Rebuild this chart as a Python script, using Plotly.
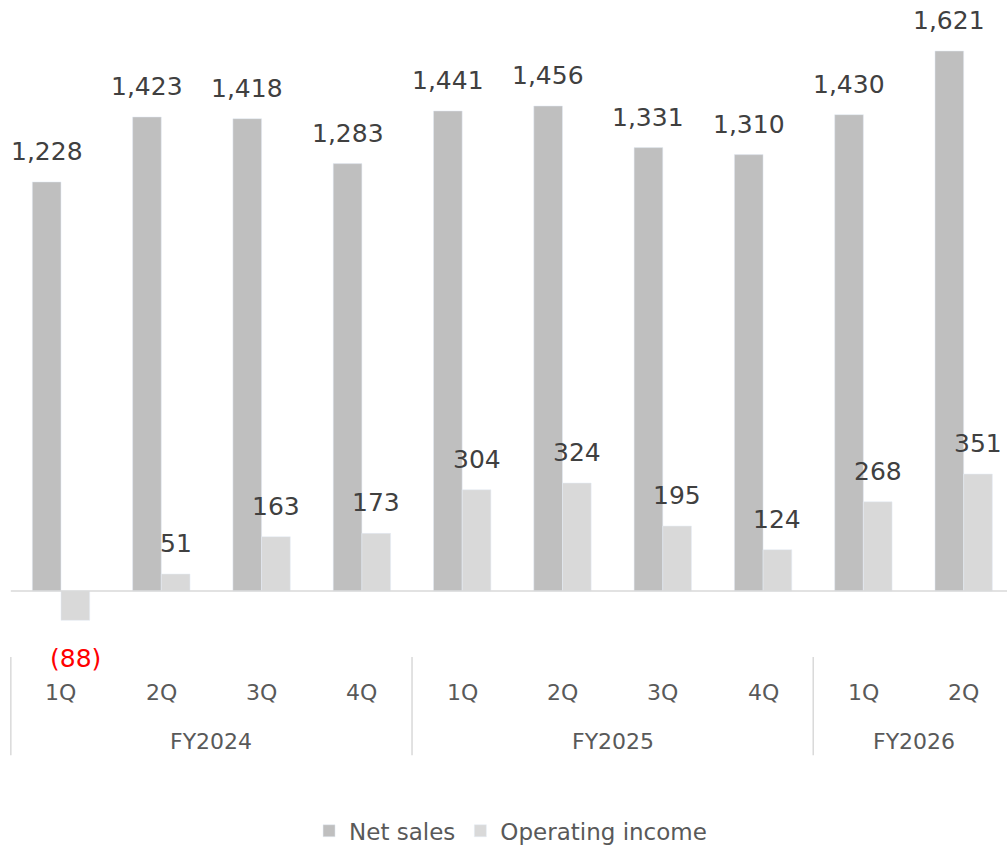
import plotly.graph_objects as go

quarters = ['1Q', '2Q', '3Q', '4Q', '1Q', '2Q', '3Q', '4Q', '1Q', '2Q']
fiscal_years = ['FY2024', 'FY2025', 'FY2026']
fy_quarter_counts = [4, 4, 2]
net_sales = [1228, 1423, 1418, 1283, 1441, 1456, 1331, 1310, 1430, 1621]
operating_income = [-88, 51, 163, 173, 304, 324, 195, 124, 268, 351]

NET_COLOR = '#bfbfbf'
OP_COLOR = '#d9d9d9'
FONT = 'DejaVu Sans'
BAR_W = 0.286

x = list(range(len(quarters)))


def fmt(v):
    return f'({abs(v):,})' if v < 0 else f'{v:,}'


fig = go.Figure()
fig.add_trace(go.Bar(x=x, y=net_sales, name='Net sales', marker_color=NET_COLOR,
                     offsetgroup='a'))
fig.add_trace(go.Bar(x=x, y=operating_income, name='Operating income',
                     marker_color=OP_COLOR, offsetgroup='b'))

annotations = []
for i in x:
    for v, dx in ((net_sales[i], -BAR_W / 2), (operating_income[i], BAR_W / 2)):
        neg = v < 0
        annotations.append(dict(
            x=i + dx, y=v, xref='x', yref='y', text=fmt(v), showarrow=False,
            yanchor='top' if neg else 'bottom', yshift=-22 if neg else 14,
            font=dict(size=25, color='#ff0000' if neg else '#404040', family=FONT),
        ))
    annotations.append(dict(x=i, y=-305, xref='x', yref='y', text=quarters[i],
                            showarrow=False, font=dict(size=22, color='#595959', family=FONT)))

# fiscal year group labels and separators
shapes = []
start = 0
for fy, n in zip(fiscal_years, fy_quarter_counts):
    annotations.append(dict(x=start + (n - 1) / 2, y=-452, xref='x', yref='y', text=fy,
                            showarrow=False, font=dict(size=22, color='#595959', family=FONT)))
    shapes.append(dict(type='line', x0=start - 0.5, x1=start - 0.5, y0=-198, y1=-493,
                       xref='x', yref='y', line=dict(color='#d9d9d9', width=1.5)))
    start += n
shapes.append(dict(type='line', x0=start - 0.5, x1=start - 0.5, y0=-198, y1=-493,
                   xref='x', yref='y', line=dict(color='#d9d9d9', width=1.5)))
# zero axis line
shapes.append(dict(type='line', x0=-0.5, x1=len(quarters) - 0.5, y0=0, y1=0,
                   xref='x', yref='y', line=dict(color='#d9d9d9', width=1.5), layer='above'))

fig.update_layout(
    width=1007, height=846,
    margin=dict(l=0, r=0, t=0, b=0, autoexpand=False),
    paper_bgcolor='white', plot_bgcolor='white',
    barmode='group', bargap=0.428, bargroupgap=0,
    font=dict(family=FONT, size=22, color='#595959'),
    xaxis=dict(range=[-0.608, 9.432], visible=False),
    yaxis=dict(range=[-765.5, 1774.1], visible=False),
    annotations=annotations,
    shapes=shapes,
    showlegend=True,
    legend=dict(orientation='h', x=0.507, xanchor='center', y=0.018, yanchor='middle',
                font=dict(size=23, color='#595959', family=FONT), bgcolor='rgba(0,0,0,0)',
                itemwidth=30, tracegroupgap=0),
)

fig.write_html('out.html', config={'displayModeBar': False},
               post_script="document.body.style.margin='0';"
                           "document.body.style.overflow='hidden';")
